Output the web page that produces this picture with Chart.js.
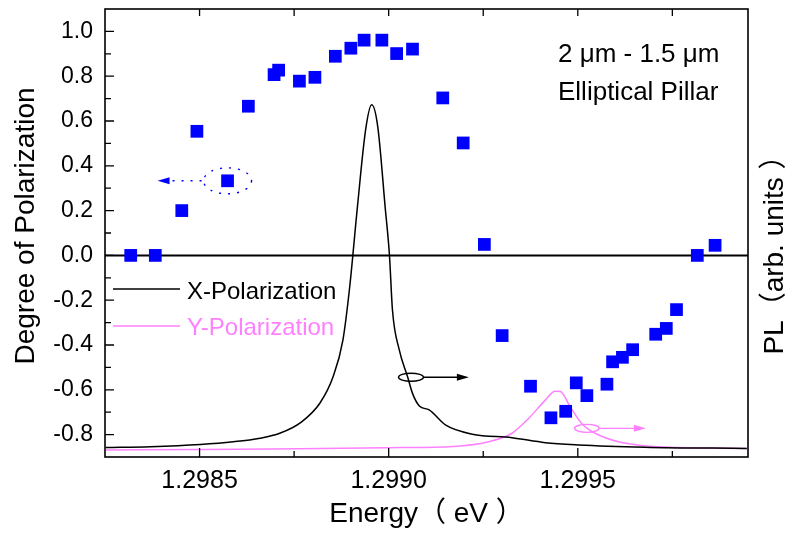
<!DOCTYPE html>
<html lang="en">
<head>
  <meta charset="utf-8">
  <title>Degree of Polarization - Elliptical Pillar</title>
  <script src="https://cdn.jsdelivr.net/npm/chart.js"></script>
  <style>
    body { margin: 0; background: #fff; }
    #wrap { width: 793px; height: 535px; position: relative; }
  </style>
</head>
<body>
<div id="wrap"><canvas id="dop-chart"></canvas></div>
<script>
  // degree of polarization vs photon energy (eV)
  const dopEnergy = [1.298318, 1.298383, 1.298453, 1.298493, 1.298574, 1.298629, 1.298697, 1.298709,
    1.298764, 1.298805, 1.298859, 1.298900, 1.298935, 1.298982, 1.299021, 1.299063, 1.299143, 1.299197,
    1.299253, 1.299300, 1.299375, 1.299429, 1.299468, 1.299496, 1.299524, 1.299577, 1.299592, 1.299618,
    1.299645, 1.299706, 1.299734, 1.299761, 1.299816, 1.299863];
  const dopValue = [0.0, 0.0, 0.20, 0.554, 0.333, 0.666, 0.807, 0.827,
    0.778, 0.795, 0.889, 0.925, 0.961, 0.961, 0.901, 0.921, 0.703, 0.502,
    0.049, -0.358, -0.584, -0.725, -0.696, -0.569, -0.626, -0.575, -0.475, -0.455,
    -0.421, -0.352, -0.326, -0.242, 0.0, 0.045];

  // PL spectra, arb. units
  const xPolEnergy = [1.298252, 1.298370, 1.298502, 1.298589, 1.298660, 1.298712, 1.298769, 1.298818,
    1.298853, 1.298879, 1.298897, 1.298917, 1.298939, 1.298955, 1.298971, 1.298991, 1.299002, 1.299010,
    1.299028, 1.299050, 1.299063, 1.299081, 1.299107, 1.299151, 1.299221, 1.299326, 1.299414, 1.299502,
    1.299677, 1.299947];
  const xPolPL = [0.021, 0.023, 0.028, 0.034, 0.042, 0.053, 0.078, 0.120,
    0.179, 0.261, 0.380, 0.555, 0.730, 0.786, 0.738, 0.555, 0.451, 0.328,
    0.239, 0.179, 0.142, 0.114, 0.105, 0.071, 0.051, 0.043, 0.032, 0.027,
    0.022, 0.019];
  const yPolEnergy = [1.298252, 1.298502, 1.298765, 1.298997, 1.299160, 1.299265, 1.299326, 1.299370,
    1.299414, 1.299440, 1.299454, 1.299480, 1.299510, 1.299546, 1.299607, 1.299677, 1.299765, 1.299947];
  const yPolPL = [0.0156, 0.0168, 0.0185, 0.0208, 0.023, 0.034, 0.053, 0.086,
    0.127, 0.147, 0.146, 0.112, 0.075, 0.053, 0.034, 0.025, 0.021, 0.019];

  const xMajorTicks = [1.2985, 1.2990, 1.2995];
  const xMinorTicks = [1.29875, 1.29925, 1.29975];
  const yMajorTicks = [-0.8, -0.6, -0.4, -0.2, 0.0, 0.2, 0.4, 0.6, 0.8, 1.0];
  const yMinorTicks = [-0.7, -0.5, -0.3, -0.1, 0.1, 0.3, 0.5, 0.7, 0.9];

  const FONT = "'Liberation Sans', Arial, 'Noto Sans CJK SC', sans-serif";
  const BLUE = '#0000ff';
  const PINK = '#ff80ff';

  const toPoints = (xs, ys) => xs.map((x, i) => ({ x: x, y: ys[i] }));

  function ellipse(ctx, cx, cy, rx, ry) {
    ctx.beginPath();
    ctx.ellipse(cx, cy, rx, ry, 0, 0, Math.PI * 2);
    ctx.stroke();
  }

  function arrow(ctx, x0, x1, y, color, dash) {
    const dir = Math.sign(x1 - x0);
    ctx.strokeStyle = color;
    ctx.fillStyle = color;
    ctx.setLineDash(dash || []);
    ctx.beginPath();
    ctx.moveTo(x0, y);
    ctx.lineTo(x1 - dir * 10, y);
    ctx.stroke();
    ctx.setLineDash([]);
    ctx.beginPath();
    ctx.moveTo(x1, y);
    ctx.lineTo(x1 - dir * 12, y - 3.5);
    ctx.lineTo(x1 - dir * 12, y + 3.5);
    ctx.closePath();
    ctx.fill();
  }

  function vText(ctx, text, x, y, size) {
    ctx.save();
    ctx.translate(x, y);
    ctx.rotate(-Math.PI / 2);
    ctx.font = size + 'px ' + FONT;
    ctx.textAlign = 'center';
    ctx.textBaseline = 'alphabetic';
    ctx.fillText(text, 0, 0);
    ctx.restore();
  }

  // zero line under the squares, then frame, inward ticks, legend and notes on top
  const decorations = {
    id: 'decorations',
    beforeDatasetsDraw(chart) {
      const { ctx, chartArea: a, scales: { y } } = chart;
      const y0 = y.getPixelForValue(0);
      ctx.save();
      ctx.strokeStyle = '#000';
      ctx.lineWidth = 2;
      ctx.beginPath();
      ctx.moveTo(a.left, y0);
      ctx.lineTo(a.right, y0);
      ctx.stroke();
      ctx.restore();
    },
    afterDatasetsDraw(chart) {
      const { ctx, chartArea: a, scales: { x, y } } = chart;
      ctx.save();
      ctx.strokeStyle = '#000';
      ctx.lineWidth = 1.6;
      ctx.strokeRect(a.left, a.top, a.right - a.left, a.bottom - a.top);

      ctx.lineWidth = 1.3;
      ctx.beginPath();
      xMajorTicks.concat(xMinorTicks).forEach(v => {
        const px = x.getPixelForValue(v);
        const len = xMajorTicks.includes(v) ? 9 : 6;
        ctx.moveTo(px, a.bottom); ctx.lineTo(px, a.bottom - len);
        ctx.moveTo(px, a.top); ctx.lineTo(px, a.top + 7);
      });
      yMajorTicks.concat(yMinorTicks).forEach(v => {
        const py = y.getPixelForValue(v);
        const len = yMajorTicks.includes(v) ? 9 : 6;
        ctx.moveTo(a.left, py); ctx.lineTo(a.left + len, py);
      });
      ctx.stroke();

      // legend
      ctx.lineWidth = 1.5;
      ctx.font = '24px ' + FONT;
      ctx.textAlign = 'left';
      ctx.textBaseline = 'alphabetic';
      ctx.strokeStyle = '#000';
      ctx.beginPath(); ctx.moveTo(113, 289); ctx.lineTo(180, 289); ctx.stroke();
      ctx.fillStyle = '#000';
      ctx.fillText('X-Polarization', 187, 299);
      ctx.strokeStyle = PINK;
      ctx.beginPath(); ctx.moveTo(113, 326); ctx.lineTo(180, 326); ctx.stroke();
      ctx.fillStyle = PINK;
      ctx.fillText('Y-Polarization', 187, 335);

      // sample description
      ctx.fillStyle = '#000';
      ctx.font = '26px ' + FONT;
      ctx.fillText('2 \u03bcm - 1.5 \u03bcm', 558, 62);
      ctx.fillText('Elliptical Pillar', 558, 100);

      // which axis each data set belongs to
      ctx.lineWidth = 1.4;
      let cx = x.getPixelForValue(1.298574), cy = y.getPixelForValue(0.333);
      ctx.strokeStyle = BLUE;
      ctx.setLineDash([2, 7]);
      ellipse(ctx, cx, cy, 24, 13);
      arrow(ctx, cx - 26, x.getPixelForValue(1.298389), cy, BLUE, [2, 7]);

      cx = x.getPixelForValue(1.299059); cy = y.getPixelForValue(-0.544);
      ctx.strokeStyle = '#000';
      ellipse(ctx, cx, cy, 12.5, 4);
      arrow(ctx, cx + 12.5, x.getPixelForValue(1.299212), cy, '#000');

      cx = x.getPixelForValue(1.299524); cy = y.getPixelForValue(-0.772);
      ctx.strokeStyle = PINK;
      ellipse(ctx, cx, cy, 12.3, 4);
      arrow(ctx, cx + 12.3, x.getPixelForValue(1.29968), cy, PINK);

      // vertical axis titles
      ctx.fillStyle = '#000';
      vText(ctx, 'Degree of Polarization', 33.5, 226, 28);
      vText(ctx, 'PL\uff08arb. units \uff09', 783, 248, 28);
      ctx.restore();
    }
  };

  new Chart(document.getElementById('dop-chart'), {
    type: 'scatter',
    data: {
      datasets: [
        {
          label: 'Degree of Polarization',
          data: toPoints(dopEnergy, dopValue),
          yAxisID: 'y',
          pointStyle: 'rect',
          pointRadius: 9,
          pointBackgroundColor: BLUE,
          pointBorderWidth: 0
        },
        {
          label: 'X-Polarization',
          data: toPoints(xPolEnergy, xPolPL),
          yAxisID: 'y2',
          showLine: true,
          pointRadius: 0,
          borderColor: '#000',
          borderWidth: 1.5,
          cubicInterpolationMode: 'monotone'
        },
        {
          label: 'Y-Polarization',
          data: toPoints(yPolEnergy, yPolPL),
          yAxisID: 'y2',
          showLine: true,
          pointRadius: 0,
          borderColor: PINK,
          borderWidth: 1.5,
          cubicInterpolationMode: 'monotone'
        }
      ]
    },
    options: {
      responsive: true,
      maintainAspectRatio: false,
      animation: false,
      devicePixelRatio: 1,
      layout: { padding: { top: 9, right: 45, left: 0, bottom: 0 } },
      plugins: { legend: { display: false }, tooltip: { enabled: false } },
      scales: {
        x: {
          type: 'linear',
          min: 1.29825,
          max: 1.29995,
          afterFit: s => { s.height = 78; s.paddingLeft = 0; s.paddingRight = 0; },
          afterBuildTicks: s => { s.ticks = xMajorTicks.map(v => ({ value: v })); },
          grid: { display: false, drawTicks: false },
          border: { display: false },
          ticks: {
            callback: v => v.toFixed(4),
            color: '#000',
            padding: 9,
            maxRotation: 0,
            autoSkip: false,
            font: { family: FONT, size: 25 }
          },
          title: {
            display: true,
            text: 'Energy\uff08 eV \uff09',
            color: '#000',
            padding: { top: 0, bottom: 4 },
            font: { family: FONT, size: 28 }
          }
        },
        y: {
          min: -0.9,
          max: 1.1,
          afterFit: s => { s.width = 105; s.paddingTop = 0; s.paddingBottom = 0; },
          afterBuildTicks: s => { s.ticks = yMajorTicks.map(v => ({ value: v })); },
          grid: { display: false, drawTicks: false },
          border: { display: false },
          ticks: {
            callback: v => v.toFixed(1),
            color: '#000',
            padding: 12,
            font: { family: FONT, size: 23 }
          }
        },
        y2: {
          display: false,
          min: 0,
          max: 1
        }
      }
    },
    plugins: [decorations]
  });
</script>
</body>
</html>
